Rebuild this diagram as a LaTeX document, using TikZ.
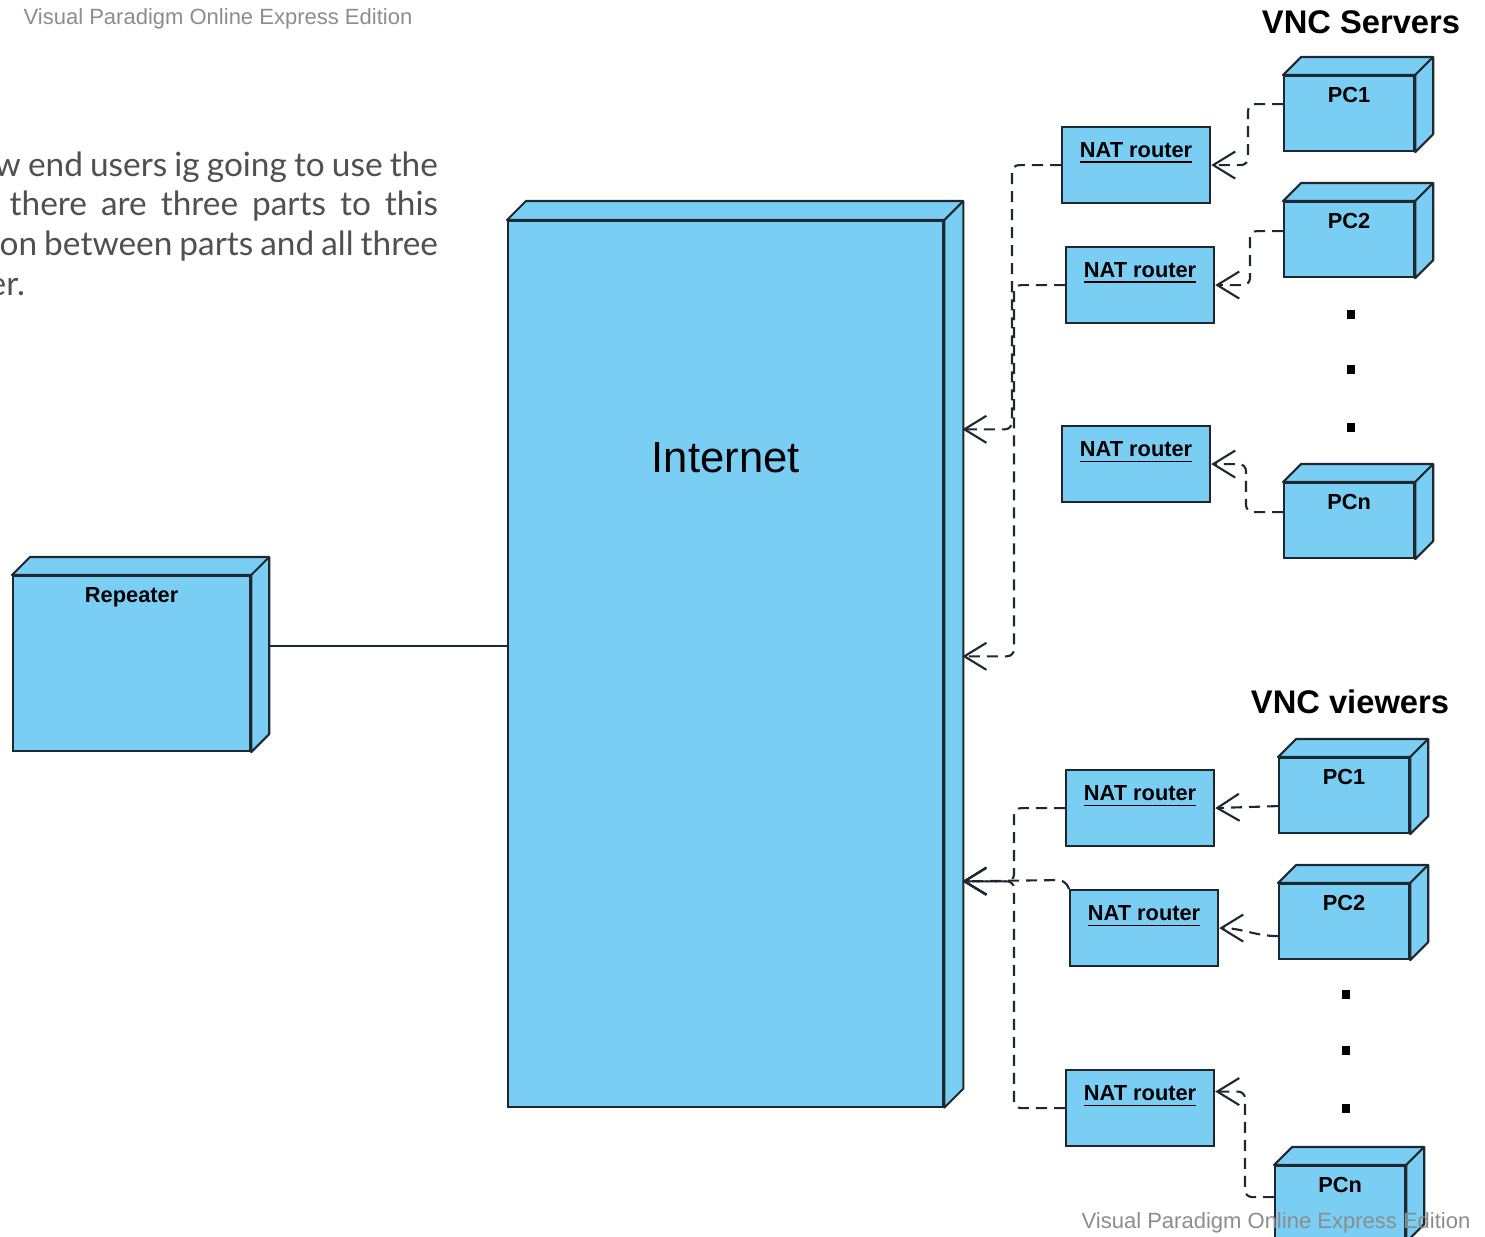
\documentclass[tikz,border=0pt]{standalone}
\usepackage{fontspec}
\setmainfont{Liberation Sans}
\newfontfamily\notefont{Lato}
\usetikzlibrary{arrows.meta,positioning}
\definecolor{boxblue}{RGB}{122,206,244}
\definecolor{boxline}{RGB}{30,40,46}
\definecolor{notegray}{RGB}{80,80,80}
\definecolor{markgray}{RGB}{140,140,140}
\tikzset{cube node/.style={draw=boxline, fill=boxblue, line width=0.6pt, inner sep=0pt,
    anchor=north west, font=\fontsize{6.2pt}{7pt}\selectfont\bfseries}}
\tikzset{pc node/.style={cube node, minimum width=1.3cm, text height=0.26cm, text depth=0.49cm}}
\tikzset{nat node/.style={cube node, minimum width=1.48cm, text height=0.30cm, text depth=0.46cm}}
\tikzset{cube face/.style={draw=boxline, fill=boxblue, line width=0.6pt, line join=round}}
\tikzset{link edge/.style={draw=boxline, line width=0.6pt, dash pattern=on 0.11cm off 0.07cm,
    rounded corners=0.07cm, -{Straight Barb[length=0.22cm,width=0.27cm]}}}
\tikzset{plain edge/.style={draw=boxline, line width=0.6pt}}
\tikzset{group title/.style={font=\fontsize{9.3pt}{11pt}\selectfont\bfseries}}
\tikzset{edition mark/.style={text=markgray, font=\fontsize{6.26pt}{7pt}\selectfont}}
\tikzset{note line/.style={anchor=base west, inner sep=0pt, text=notegray,
    font=\notefont\fontsize{9.5pt}{11pt}\selectfont}}
% top and right face behind a node
\newcommand{\cubeside}[2][18]{%
  \filldraw[cube face] (#2.north west) -- ++(#1,-#1) -- ([shift={(#1,-#1)}]#2.north east)
    -- ([shift={(#1,-#1)}]#2.south east) -- (#2.south east) -- (#2.north east) -- cycle;
  \draw[cube face, fill=none] (#2.north east) -- ++(#1,-#1);}

\begin{document}
\begin{tikzpicture}[x=0.01cm, y=-0.01cm]
  \useasboundingbox (0,0) rectangle (1485,1237);

  \node [note line] (note1) at (-6,177)  {\makebox[4.43cm][s]{w end users ig going to use the}};
  \node [note line] (note2) at (9,216)   {\makebox[4.28cm][s]{there are three parts to this}};
  \node [note line] (note3) at (-1,256)  {\makebox[4.38cm][s]{on between parts and all three}};
  \node [note line] (note4) at (-12,296) {er.};

  % repeater and internet
  \node [cube node, minimum width=2.37cm, text height=0.26cm, text depth=1.49cm] (repeater) at (12,575) {Repeater};
  \cubeside{repeater}
  \node [cube node, minimum width=4.35cm, text height=2.51cm, text depth=6.34cm,
         font=\fontsize{12.4pt}{14pt}\selectfont] (internet) at (507,220) {Internet};
  \cubeside[19]{internet}
  \coordinate (repport) at ([shift={(18,-17.5)}]repeater.east);
  \draw [plain edge] (repport) -- (repport -| internet.west);

  \coordinate (port1) at ([shift={(18,-234.5)}]internet.east);
  \coordinate (port2) at ([shift={(18,-7.5)}]internet.east);
  \coordinate (port3) at ([shift={(18,217.5)}]internet.east);

  % servers
  \node [group title] (srvtitle) at (1361,22) {VNC Servers};
  \node [pc node]  (srvpc1)  at (1283,75)  {PC1};  \cubeside{srvpc1}
  \node [pc node]  (srvpc2)  at (1283,201) {PC2};  \cubeside{srvpc2}
  \node [pc node]  (srvpcn)  at (1283,482) {PCn};  \cubeside{srvpcn}
  \node [nat node] (srvnat1) at (1061,126) {\underline{NAT router}};
  \node [nat node] (srvnat2) at (1065,246) {\underline{NAT router}};
  \node [nat node] (srvnat3) at (1061,425) {\underline{NAT router}};
  \foreach \y in {315,370,428}
    \fill (1351,\y) +(-4,-4.5) rectangle +(4,4.5);

  \draw [link edge] ([yshift=0.095cm]srvpc1.west) -- ++(-35,0) |- (srvnat1.east);
  \draw [link edge] ([yshift=0.085cm]srvpc2.west) -- ++(-33,0) |- (srvnat2.east);
  \draw [link edge] ([yshift=0.085cm]srvpcn.west) -- ++(-37,0) |- (srvnat3.east);
  \draw [link edge] (srvnat1.west) -- ++(-49,0) |- (port1);
  \draw [link edge] (srvnat2.west) -- ++(-51,0) |- (port2);

  % viewers
  \node [group title] (vwtitle) at (1350,702) {VNC viewers};
  \node [pc node]  (vwpc1)  at (1278,757)  {PC1};  \cubeside{vwpc1}
  \node [pc node]  (vwpc2)  at (1278,883)  {PC2};  \cubeside{vwpc2}
  \node [pc node]  (vwpcn)  at (1274,1165) {PCn};  \cubeside{vwpcn}
  \node [nat node] (vwnat1) at (1065,769)  {\underline{NAT router}};
  \node [nat node] (vwnat2) at (1069,889)  {\underline{NAT router}};
  \node [nat node] (vwnat3) at (1065,1069) {\underline{NAT router}};
  \foreach \y in {994,1050,1108}
    \fill (1346,\y) +(-4,-4.5) rectangle +(4,4.5);

  \draw [link edge] ([yshift=-0.105cm]vwpc1.west) -- (vwnat1.east);
  \draw [link edge] ([yshift=-0.145cm]vwpc2.west) to [out=180, in=0] (vwnat2.east);
  \draw [link edge] ([yshift=0.065cm]vwpcn.west) -- ++(-29,0) |- ([yshift=0.165cm]vwnat3.east);
  \draw [link edge] (vwnat1.west) -- ++(-51,0) |- (port3);
  \draw [link edge] (vwnat2.north west) -- ++(-4,-9) -- (port3);
  \draw [link edge] (vwnat3.west) -- ++(-51,0) |- (port3);

  \node [edition mark] (marktop) at (218,19)   {Visual Paradigm Online Express Edition};
  \node [edition mark] (markbot) at (1276,1223) {Visual Paradigm Online Express Edition};
\end{tikzpicture}
\end{document}
